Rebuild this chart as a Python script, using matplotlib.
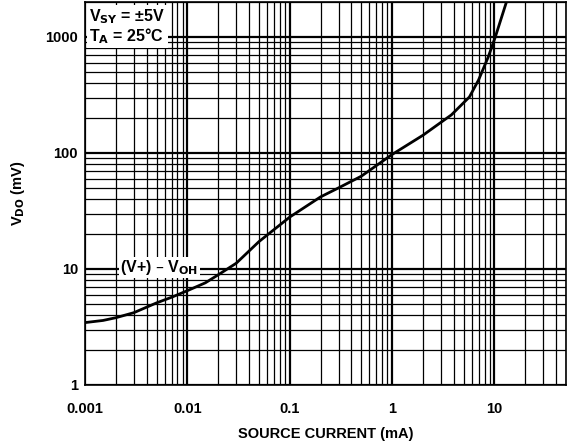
import matplotlib
matplotlib.use('Agg')
import matplotlib.pyplot as plt
from matplotlib.ticker import LogLocator, FixedLocator, FixedFormatter, NullFormatter

plt.rcParams['font.family'] = ['Liberation Sans', 'DejaVu Sans']
plt.rcParams['font.weight'] = 'bold'

# source current (mA) vs dropout voltage (mV)
current = [0.001, 0.0015, 0.002, 0.003, 0.005, 0.007, 0.01, 0.015, 0.02, 0.03,
           0.05, 0.1, 0.2, 0.3, 0.5, 1, 2, 3.8, 5.7, 7, 8.7, 10.2, 13]
vdo = [3.45, 3.6, 3.8, 4.2, 5.1, 5.7, 6.5, 7.6, 8.9, 11.2,
       17.2, 28, 41.8, 50, 63, 97, 142, 213, 304, 426, 672, 1000, 1960]

xticks = [0.001, 0.01, 0.1, 1, 10]
xlabels = ['0.001', '0.01', '0.1', '1', '10']
yticks = [1, 10, 100, 1000]
ylabels = ['1', '10', '100', '1000']

fig = plt.figure(figsize=(5.72, 4.44), dpi=100)
ax = fig.add_axes([0.1486, 0.1329, 0.8409, 0.8626])
ax.set_xscale('log')
ax.set_yscale('log')
ax.set_xlim(0.001, 50)
ax.set_ylim(1, 2000)

ax.xaxis.set_major_locator(FixedLocator(xticks))
ax.xaxis.set_major_formatter(FixedFormatter(xlabels))
ax.yaxis.set_major_locator(FixedLocator(yticks))
ax.yaxis.set_major_formatter(FixedFormatter(ylabels))
ax.xaxis.set_minor_locator(LogLocator(base=10, subs=range(2, 10), numticks=20))
ax.yaxis.set_minor_locator(LogLocator(base=10, subs=range(2, 10), numticks=20))
ax.xaxis.set_minor_formatter(NullFormatter())
ax.yaxis.set_minor_formatter(NullFormatter())

ax.grid(which='major', color='black', linewidth=1.6)
ax.grid(which='minor', color='black', linewidth=0.9)
ax.tick_params(which='both', length=0, labelsize=10.5)
ax.tick_params(axis='x', pad=12)
ax.tick_params(axis='y', pad=5)
for s in ax.spines.values():
    s.set_linewidth(1.2)

ax.plot(current, vdo, color='black', linewidth=2, zorder=5, solid_joinstyle='round')

ax.text(0.0011, 1800, 'V$_{\\mathbf{SY}}$ = ±5V\nT$_{\\mathbf{A}}$ = 25°C', fontsize=11.5,
        fontweight='bold', va='top', ha='left', linespacing=1.0,
        bbox=dict(facecolor='white', edgecolor='none', pad=2), zorder=6)
ax.text(0.0022, 10.3, '(V+) – V$_{\\mathbf{OH}}$', fontsize=11.5, fontweight='bold',
        va='center', ha='left',
        bbox=dict(facecolor='white', edgecolor='none', pad=1), zorder=6)

ax.set_xlabel('SOURCE CURRENT (mA)', fontsize=10.5, fontweight='bold', labelpad=8)
ax.set_ylabel('V$_{\\mathbf{DO}}$ (mV)', fontsize=10.5, fontweight='bold', labelpad=13)

fig.savefig('out.png', dpi=100)
